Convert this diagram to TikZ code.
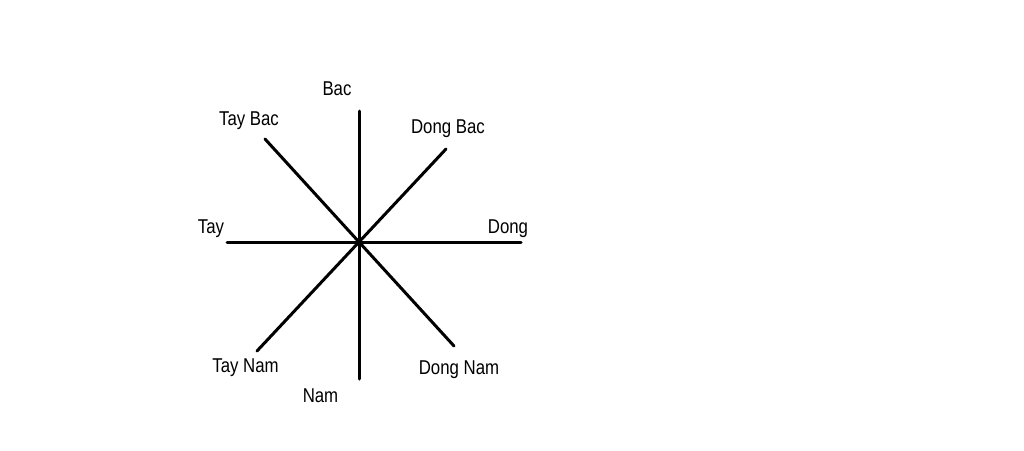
\documentclass[tikz,border=0pt]{standalone}
\usepackage{fontspec}
\newfontfamily\labfont[FakeStretch=0.84]{Liberation Sans}
\begin{document}
\begin{tikzpicture}[x=1pt,y=-1pt,
  ray/.style={line width=3pt,line cap=round},
  lab/.style={font=\labfont\fontsize{20}{24}\selectfont,anchor=base,inner sep=0pt}]
\useasboundingbox (0,0) rectangle (1024,450);
\coordinate (c) at (359,242);
\coordinate (eN) at (359,111);
\coordinate (eS) at (359,379);
\coordinate (eW) at (227,242);
\coordinate (eE) at (521,242);
\coordinate (eNW) at (265,139);
\coordinate (eNE) at (446,149);
\coordinate (eSW) at (257,351);
\coordinate (eSE) at (454,346);
\foreach \e in {eN,eS,eW,eE,eNW,eNE,eSW,eSE} \draw[ray] (c) -- (\e);
\node[lab] (lN) at (337,95) {Bac};
\node[lab] (lNW) at (249,125) {Tay Bac};
\node[lab] (lNE) at (448,133) {Dong Bac};
\node[lab] (lW) at (211,233) {Tay};
\node[lab] (lE) at (508,233) {Dong};
\node[lab] (lSW) at (245.5,372) {Tay Nam};
\node[lab] (lSE) at (459,374) {Dong Nam};
\node[lab] (lS) at (320.5,402) {Nam};
\end{tikzpicture}
\end{document}
